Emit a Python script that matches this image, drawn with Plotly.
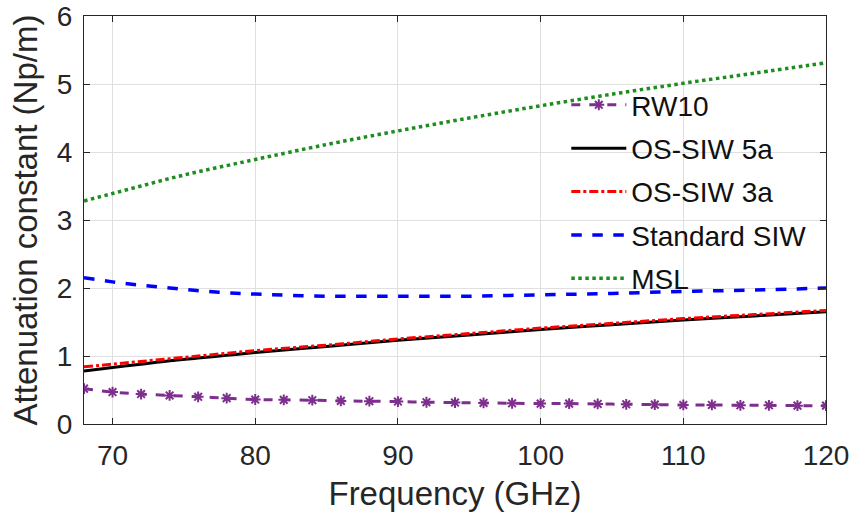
import plotly.graph_objects as go

freq = [68, 70, 72, 74, 76, 78, 80, 85, 90, 95, 100, 105, 110, 115, 120]
os5a = [0.78, 0.83, 0.88, 0.93, 0.97, 1.01, 1.05, 1.14, 1.23, 1.31, 1.39, 1.46, 1.53, 1.59, 1.65]
os3a = [0.84, 0.88, 0.92, 0.96, 1.00, 1.04, 1.08, 1.16, 1.25, 1.33, 1.41, 1.48, 1.55, 1.61, 1.67]
siw = [2.15, 2.09, 2.04, 2.00, 1.96, 1.93, 1.91, 1.88, 1.88, 1.88, 1.90, 1.92, 1.95, 1.97, 2.00]
msl = [3.28, 3.39, 3.50, 3.61, 3.71, 3.80, 3.89, 4.11, 4.31, 4.50, 4.68, 4.85, 5.01, 5.16, 5.31]

rw10_freq = [68, 70, 72, 74, 76, 78, 80, 82, 84, 86, 88, 90, 92, 94, 96, 98, 100,
             102, 104, 106, 108, 110, 112, 114, 116, 118, 120]
rw10 = [0.52, 0.47, 0.44, 0.42, 0.40, 0.38, 0.36, 0.355, 0.35, 0.34, 0.335, 0.33, 0.32,
        0.315, 0.31, 0.305, 0.30, 0.30, 0.295, 0.29, 0.285, 0.28, 0.28, 0.275, 0.275, 0.27, 0.27]

xticks = [70, 80, 90, 100, 110, 120]
yticks = [0, 1, 2, 3, 4, 5, 6]

FONT = "Liberation Sans, Arial"

fig = go.Figure()
fig.add_trace(go.Scatter(x=rw10_freq, y=rw10, name="RW10", mode="lines+markers", line_shape="spline",
                         line=dict(color="#7E2F8E", width=3, dash="dash"),
                         marker=dict(symbol="asterisk-open", size=9, color="#7E2F8E",
                                     line=dict(color="#7E2F8E", width=2)),
                         legendgroup="a"))
fig.add_trace(go.Scatter(x=freq, y=os5a, name="OS-SIW 5a", mode="lines", line_shape="spline",
                         line=dict(color="black", width=3), legendgroup="b"))
fig.add_trace(go.Scatter(x=freq, y=os3a, name="OS-SIW 3a", mode="lines", line_shape="spline",
                         line=dict(color="#FF0000", width=3, dash="dashdot"), legendgroup="c"))
fig.add_trace(go.Scatter(x=freq, y=siw, name="Standard SIW", mode="lines", line_shape="spline",
                         line=dict(color="#0000FF", width=3.5, dash="dash"), legendgroup="d"))
fig.add_trace(go.Scatter(x=freq, y=msl, name="MSL", mode="lines", line_shape="spline",
                         line=dict(color="#1E8C1E", width=3.5, dash="dot"), legendgroup="e"))

axis_common = dict(showline=True, linecolor="#262626", linewidth=1, mirror="ticks",
                   ticks="inside", ticklen=6, tickcolor="#262626", automargin=False,
                   showgrid=True, gridcolor="#DFDFDF", gridwidth=1, zeroline=False,
                   tickfont=dict(family=FONT, size=28, color="#262626"))

fig.update_layout(
    width=855, height=524,
    margin=dict(l=84, r=29, t=16, b=100),
    paper_bgcolor="white", plot_bgcolor="white",
    xaxis=dict(range=[68, 120], tickvals=xticks, **axis_common, ticklabelstandoff=6,
               title=dict(text="Frequency (GHz)", font=dict(family=FONT, size=33, color="#262626"), standoff=12)),
    yaxis=dict(range=[0, 6], tickvals=yticks, **axis_common, ticklabelstandoff=5,
               title=dict(text="Attenuation constant (Np/m)", font=dict(family=FONT, size=33, color="#262626"), standoff=9)),
    legend=dict(x=0.650, y=0.843, xanchor="left", yanchor="top", bgcolor="rgba(0,0,0,0)",
                font=dict(family=FONT, size=28, color="#111111"),
                tracegroupgap=4, itemwidth=55),
    showlegend=True,
)

fig.write_html("out.html")
